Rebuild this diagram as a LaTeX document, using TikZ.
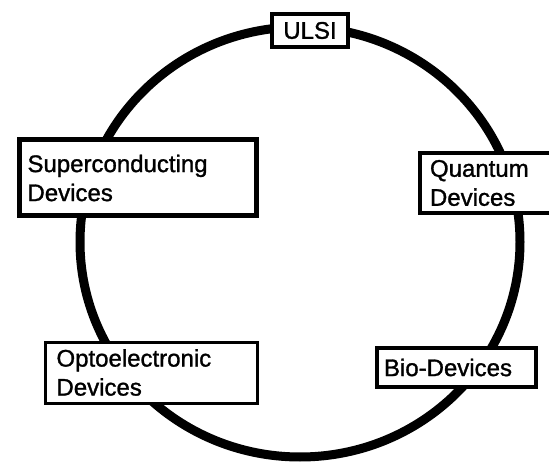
\documentclass[tikz,border=0pt]{standalone}
\usepackage{fontspec}
\setmainfont{Liberation Sans}
\newfontfamily\lblfont{Liberation Sans}[FakeBold=1.2]
\begin{document}
\begin{tikzpicture}[x=1pt,y=-1pt,
  box/.style={draw=black, fill=white, rectangle, anchor=north west, align=left,
    font=\lblfont\fontsize{24}{29}\selectfont, inner ysep=0pt},
  ring/.style={draw=black, line width=9pt}]
\useasboundingbox (0,0) rectangle (549,465);
\fill[white] (0,0) rectangle (549,465);
\clip (0,0) rectangle (549,465);
\coordinate (c) at (300,242);
\draw[ring] (c) ellipse [x radius=220pt, y radius=215pt];
\node[box, line width=4pt, minimum width=76pt, minimum height=33pt, align=center, inner xsep=0pt] (ulsi) at (270,12) {ULSI};
\node[box, line width=5pt, minimum width=237pt, minimum height=76pt, inner xsep=8.5pt, text width=220pt] (sc) at (16.5,137.5) {Superconducting\\Devices};
\node[box, line width=4pt, minimum width=150pt, minimum height=60pt, inner xsep=10pt, text width=130pt] (qd) at (418,151) {Quantum\\Devices};
\node[box, line width=3pt, minimum width=212pt, minimum height=61pt, inner xsep=11.5pt, text width=189pt] (od) at (43.5,340.5) {Optoelectronic\\Devices};
\node[box, line width=4pt, minimum width=159pt, minimum height=39pt, inner xsep=7pt, text width=145pt] (bd) at (375,346) {Bio-Devices};
\end{tikzpicture}
\end{document}
